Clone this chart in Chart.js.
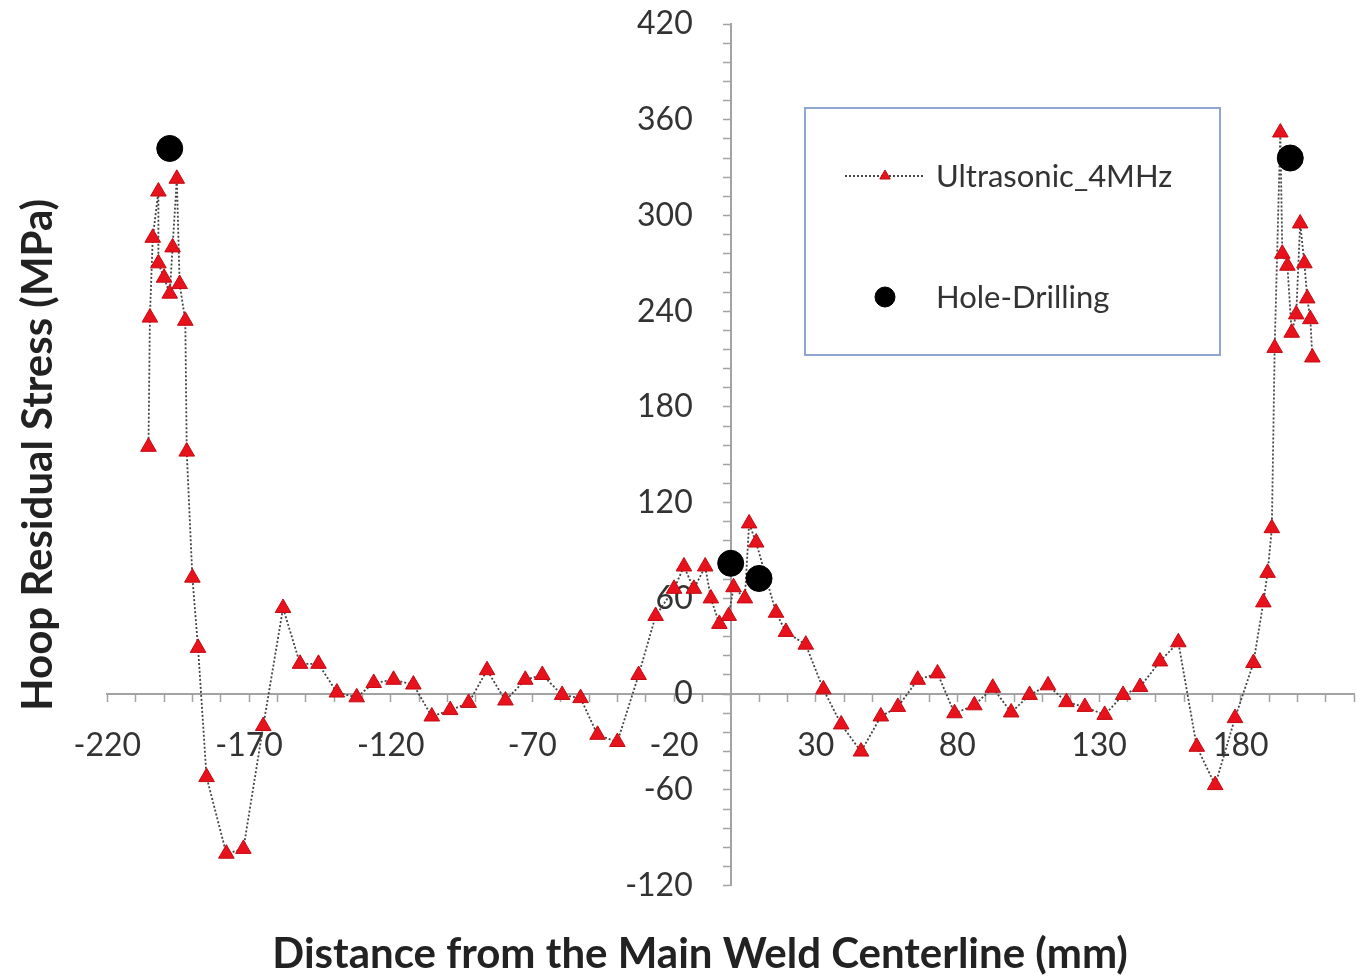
<!DOCTYPE html>
<html>
<head>
<meta charset="utf-8">
<script src="https://cdn.jsdelivr.net/npm/chart.js@4.4.1/dist/chart.umd.min.js"></script>
<style>
  html, body { margin: 0; padding: 0; background: #fff; }
</style>
</head>
<body>
<canvas id="chart" width="1368" height="980"></canvas>
<script>
// ultrasonic (4 MHz) hoop stress along the pipe: distance in mm, stress in MPa
const ultraX = [
  -205.5, -205, -204, -202, -202, -200, -198, -197, -195.5, -194.5, -192.5, -192,
  -190, -188, -185, -178, -172, -165, -158, -152, -145.5, -139, -132, -126,
  -119, -112, -105.5, -99, -92.5, -86, -79.5, -72.5, -66.5, -59.5, -53, -47,
  -40, -32.5, -26.5, -20, -16.5, -13, -9, -7, -4, -0.7, 1, 5,
  6.5, 9, 16, 19.5, 26.5, 32.7, 39, 46, 53, 59, 66, 73,
  79, 86, 92.5, 99, 105.5, 112, 118.5, 125, 132, 138.5, 144.5, 151.5,
  158, 164.5, 171, 178, 184.5, 188, 189.5, 191, 192, 194, 194.7, 196.5,
  198, 199.6, 201, 202.5, 203.5, 204.6, 205.3
];
const ultraY = [
  155, 236, 286, 315, 270, 261, 251, 280, 323, 257, 234, 152,
  73, 29, -52, -100, -97, -20, 54, 19, 19, 1, -2, 7,
  9, 6, -14, -10, -5.5, 15, -4, 9, 12, -0.5, -2.5, -25.5,
  -30, 12, 49, 66, 80, 66, 80, 60, 44, 49, 67, 60,
  107, 95, 51, 39, 31, 3, -19, -36, -14, -8, 9, 13,
  -12, -7, 4, -11.5, -0.5, 5.5, -5, -8, -13, -0.5, 4.5, 20.5,
  32.5, -33, -57, -15, 19.5, 57.5, 76, 104, 217, 352, 276, 268.5,
  226.5, 238, 295, 270, 248, 235, 211
];

// hole-drilling measurements
const holeX = [-198, 0, 10, 197.5];
const holeY = [342, 82, 72.5, 336];

const xTickLabels = [-220, -170, -120, -70, -20, 30, 80, 130, 180];
const yTickLabels = [-120, -60, 0, 60, 120, 180, 240, 300, 360, 420];

const axisGray = '#a3a3a3';
const textColor = '#333';

function toPoints(xs, ys) {
  return xs.map((x, i) => ({x: x, y: ys[i]}));
}

// every minor tick between min and max
function stepTicks(min, max, step) {
  let out = [];
  for (let v = min; v <= max + 1e-9; v += step) {
    out.push({value: Math.round(v * 1000) / 1000});
  }
  return out;
}

// the crossing axes sit inside the plot, so they shouldn't push the chart area in
function noEdgePadding(scale) {
  scale.paddingTop = 0;
  scale.paddingBottom = 0;
  scale.paddingLeft = 0;
  scale.paddingRight = 0;
}

// boxed legend sitting inside the plot
const legendBox = {
  id: 'legendBox',
  afterDatasetsDraw(chart) {
    const ctx = chart.ctx;
    ctx.save();
    ctx.fillStyle = '#fff';
    ctx.fillRect(805, 108, 415, 247);
    ctx.strokeStyle = '#8ea6cf';
    ctx.lineWidth = 2;
    ctx.strokeRect(805, 108, 415, 247);

    chart.data.datasets.forEach((ds, i) => {
      let y = 176 + i * 121;
      if (ds.showLine) {
        ctx.strokeStyle = ds.borderColor;
        ctx.lineWidth = ds.borderWidth;
        ctx.setLineDash(ds.borderDash);
        ctx.beginPath();
        ctx.moveTo(845, y);
        ctx.lineTo(925, y);
        ctx.stroke();
        ctx.setLineDash([]);
      }
      ctx.fillStyle = ds.pointBackgroundColor;
      ctx.strokeStyle = ds.pointBorderColor;
      ctx.lineWidth = 1;
      Chart.helpers.drawPoint(ctx, {
        pointStyle: ds.pointStyle,
        radius: ds.showLine ? 6 : 10,
        rotation: 0,
        borderWidth: 1
      }, 885, y);

      ctx.fillStyle = textColor;
      ctx.font = '31px Lato';
      ctx.textBaseline = 'middle';
      ctx.textAlign = 'left';
      ctx.fillText(ds.label, 936, y + 1);
    });
    ctx.restore();
  }
};

const ctx = document.getElementById('chart');

new Chart(ctx, {
  type: 'scatter',
  data: {
    datasets: [{
      label: 'Ultrasonic_4MHz',
      data: toPoints(ultraX, ultraY),
      showLine: true,
      borderColor: '#444',
      borderWidth: 1.8,
      borderDash: [2, 2],
      pointStyle: 'triangle',
      pointRadius: 9,
      pointBackgroundColor: '#e8121c',
      pointBorderColor: '#c40a12',
      pointBorderWidth: 1,
      order: 1
    }, {
      label: 'Hole-Drilling',
      data: toPoints(holeX, holeY),
      showLine: false,
      pointStyle: 'circle',
      pointRadius: 13,
      pointBackgroundColor: '#000',
      pointBorderColor: '#000',
      pointBorderWidth: 1,
      order: 0
    }]
  },
  options: {
    responsive: false,
    animation: false,
    devicePixelRatio: 1,
    layout: {
      padding: {left: 0, right: 11, top: 24, bottom: 0}
    },
    plugins: {
      legend: {display: false},
      tooltip: {enabled: false}
    },
    scales: {
      x: {
        type: 'linear',
        min: -220,
        max: 220,
        position: {y: 0},
        afterBuildTicks: s => { s.ticks = stepTicks(-220, 220, 10); },
        afterFit: noEdgePadding,
        ticks: {
          autoSkip: false,
          maxRotation: 0,
          padding: 25,
          color: textColor,
          font: {family: 'Lato', size: 32},
          callback: v => xTickLabels.includes(v) ? String(v) : ''
        },
        grid: {drawOnChartArea: false, tickLength: 7, tickColor: axisGray, tickWidth: 1.5},
        border: {color: axisGray, width: 2}
      },
      y: {
        type: 'linear',
        min: -120,
        max: 420,
        position: 'center',
        afterBuildTicks: s => { s.ticks = stepTicks(-120, 420, 12); },
        afterFit: noEdgePadding,
        ticks: {
          autoSkip: false,
          padding: 31,
          color: textColor,
          font: {family: 'Lato', size: 32},
          callback: v => yTickLabels.includes(v) ? String(v) : ''
        },
        grid: {drawOnChartArea: false, tickLength: 7, tickColor: axisGray, tickWidth: 1.5},
        border: {color: axisGray, width: 2}
      },
      // outer axes only carry the titles
      xTitle: {
        type: 'linear',
        position: 'bottom',
        min: -220,
        max: 220,
        ticks: {display: false},
        grid: {display: false, drawTicks: false},
        border: {display: false},
        title: {
          display: true,
          // trailing spaces nudge the centred title a little to the left
          text: 'Distance from the Main Weld Centerline (mm)' + ' '.repeat(6),
          color: '#222',
          font: {family: 'Lato', size: 42, weight: 'bold'},
          padding: {top: 44, bottom: 0}
        }
      },
      yTitle: {
        type: 'linear',
        position: 'left',
        min: -120,
        max: 420,
        ticks: {display: false},
        grid: {display: false, drawTicks: false},
        border: {display: false},
        title: {
          display: true,
          text: 'Hoop Residual Stress (MPa)',
          color: '#222',
          font: {family: 'Lato', size: 42, weight: 'bold'},
          padding: {top: 13, bottom: 44}
        }
      }
    }
  },
  plugins: [legendBox]
});
</script>
</body>
</html>
